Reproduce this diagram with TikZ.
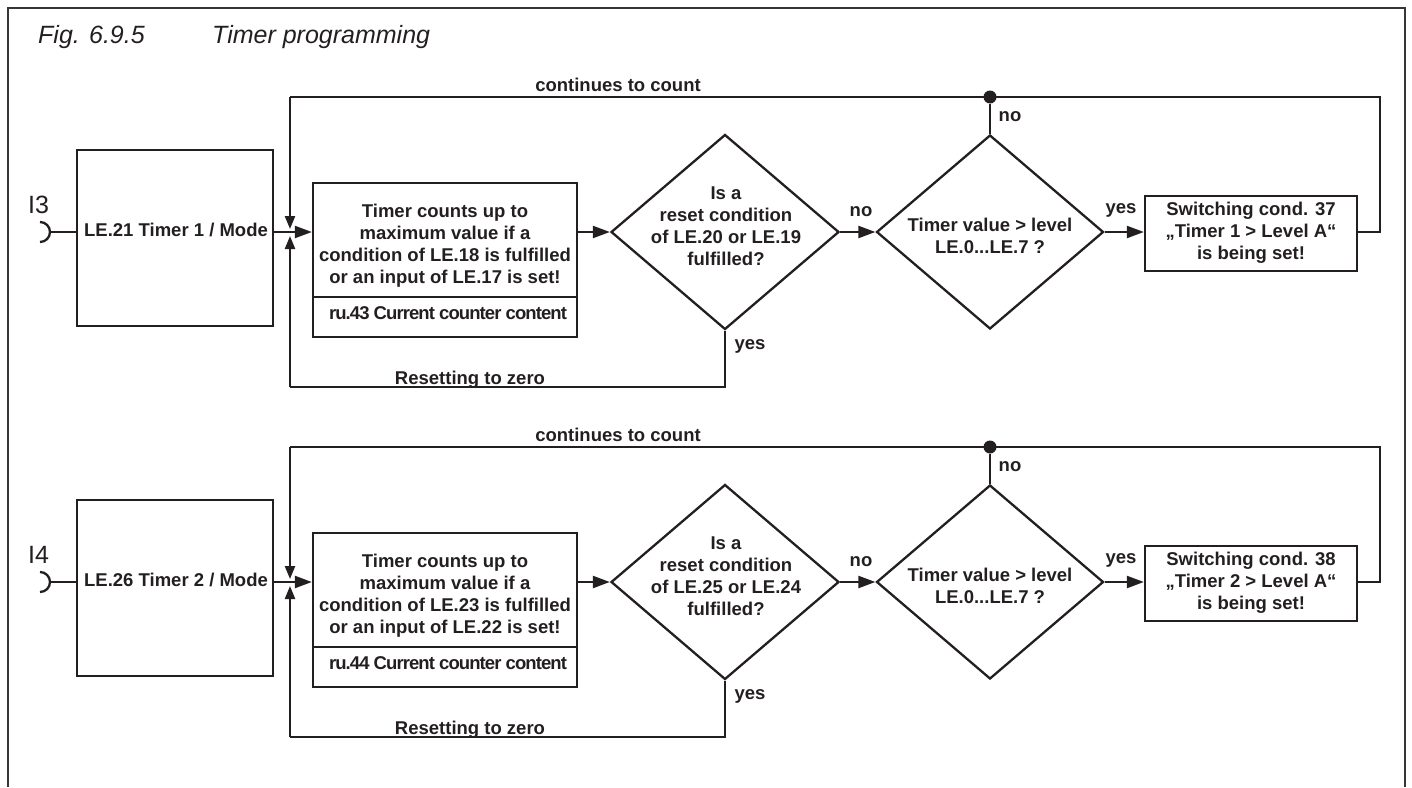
\documentclass[tikz,border=0pt]{standalone}
\usepackage{fontspec}
\setmainfont{Liberation Sans}
\usetikzlibrary{arrows.meta,shapes.geometric}
\definecolor{ink}{RGB}{35,31,32}
\tikzset{
  x=1pt, y=-1pt,
  ln/.style={line width=2.3pt, draw=ink},
  bx/.style={draw=ink, line width=2.3pt, inner sep=0pt, rectangle},
  dia/.style={draw=ink, line width=2.3pt, inner sep=0pt, diamond},
  txt/.style={font=\bfseries\fontsize{18.5}{22}\selectfont, align=center, inner sep=0pt, text=ink},
  cond/.style={font=\bfseries\fontsize{18.5}{22}\selectfont\addfontfeature{LetterSpace=-5}, inner sep=0pt, text=ink},
  plain/.style={font=\fontsize{25}{30}\selectfont, inner sep=0pt, text=ink},
  ttl/.style={font=\itshape\fontsize{25}{30}\selectfont, inner sep=0pt, text=ink},
  arr/.style={-{Triangle[length=17pt,width=12pt]}},
  sarr/.style={-{Triangle[length=13pt,width=10pt]}},
  dot/.style={circle, fill=ink, inner sep=0pt, minimum size=13pt},
  frame/.style={line width=2.3pt, draw=ink!90},
}
\newcommand{\tblk}[9]{%
\begin{scope}[shift={(0,#2)}]
  \coordinate (row#1) at (0,232);
  \coordinate (top#1) at (290,97);
  \coordinate (bot#1) at (290,387);
  \coordinate (rt#1) at (1380,97);
  \coordinate (tipd#1) at (290,229);
  \coordinate (tipu#1) at (290,236);
  \coordinate (cup#1) at (50,232);
  \node[txt, anchor=base] (cc#1) at (618,91) {continues to count};
  \node[bx, minimum width=196pt, minimum height=176pt] (lb#1) at (175,238) {};
  \node[txt, anchor=base] (lbt#1) at (176,236) {#4 Timer #1 / Mode};
  \node[plain, anchor=base west] (in#1) at (28,213) {#3};
  \draw[ln] (40,222) arc[start angle=-90, end angle=90, radius=10];
  \node[bx, minimum width=264pt, minimum height=114pt] (bm#1) at (445,240) {};
  \node[bx, minimum width=264pt, minimum height=40pt] (bl#1) at (445,317) {};
  \node[txt] (bmt#1) at (445,246) {Timer counts up to\\maximum value if a\\condition of #5 is fulfilled\\or an input of #6 is set!};
  \node[cond, anchor=base] (blt#1) at (448,319) {#7 Current counter content};
  \node[dia, minimum width=228pt, minimum height=195pt] (da#1) at (725,232) {};
  \node[txt] (dat#1) at (726,226) {Is a\\reset condition\\of #8\\fulfilled?};
  \node[dia, minimum width=227pt, minimum height=194pt] (db#1) at (990,232) {};
  \node[txt] (dbt#1) at (990,236) {Timer value > level\\LE.0...LE.7 ?};
  \node[bx, minimum width=212pt, minimum height=75pt] (sw#1) at (1251,233.5) {};
  \node[txt] (swt#1) at (1251,233) {Switching cond. #9\\„Timer #1 > Level A“\\is being set!};
  \node[dot] (dt#1) at (990,97) {};
  \node[txt, anchor=base] (no1#1) at (861,216) {no};
  \node[txt, anchor=base] (no2#1) at (1010,121) {no};
  \node[txt, anchor=base] (ye1#1) at (1121,213) {yes};
  \node[txt, anchor=base] (ye2#1) at (750,349) {yes};
  \node[txt, anchor=base] (rz#1) at (470,384) {Resetting to zero};
  \draw[ln] (cup#1) -- (lb#1.west |- row#1);
  \draw[ln,arr] (lb#1.east |- row#1) -- (bm#1.west |- row#1);
  \draw[ln,arr] (bm#1.east |- row#1) -- (da#1.west);
  \draw[ln,arr] (da#1.east) -- (db#1.west);
  \draw[ln,arr] (db#1.east) -- (sw#1.west |- row#1);
  \draw[ln] (db#1.north) -- (dt#1);
  \draw[ln] (sw#1.east |- row#1) -- (row#1 -| rt#1) -- (rt#1) -- (top#1);
  \draw[ln,sarr] (top#1) -- (tipd#1);
  \draw[ln] (da#1.south) -- (da#1.south |- bot#1) -- (bot#1);
  \draw[ln,sarr] (bot#1) -- (tipu#1);
\end{scope}}
\begin{document}
\begin{tikzpicture}
  \useasboundingbox (0,0) rectangle (1412,787);
  \draw[frame] (8,787) -- (8,8) -- (1405,8) -- (1405,787);
  \node[ttl, anchor=base west] (fig) at (38,43) {Fig. 6.9.5};
  \node[ttl, anchor=base west] (title) at (212,43) {Timer programming};
  \tblk{1}{0}{I3}{LE.21}{LE.18}{LE.17}{ru.43}{LE.20 or LE.19}{37}
  \tblk{2}{350}{I4}{LE.26}{LE.23}{LE.22}{ru.44}{LE.25 or LE.24}{38}
\end{tikzpicture}
\end{document}
